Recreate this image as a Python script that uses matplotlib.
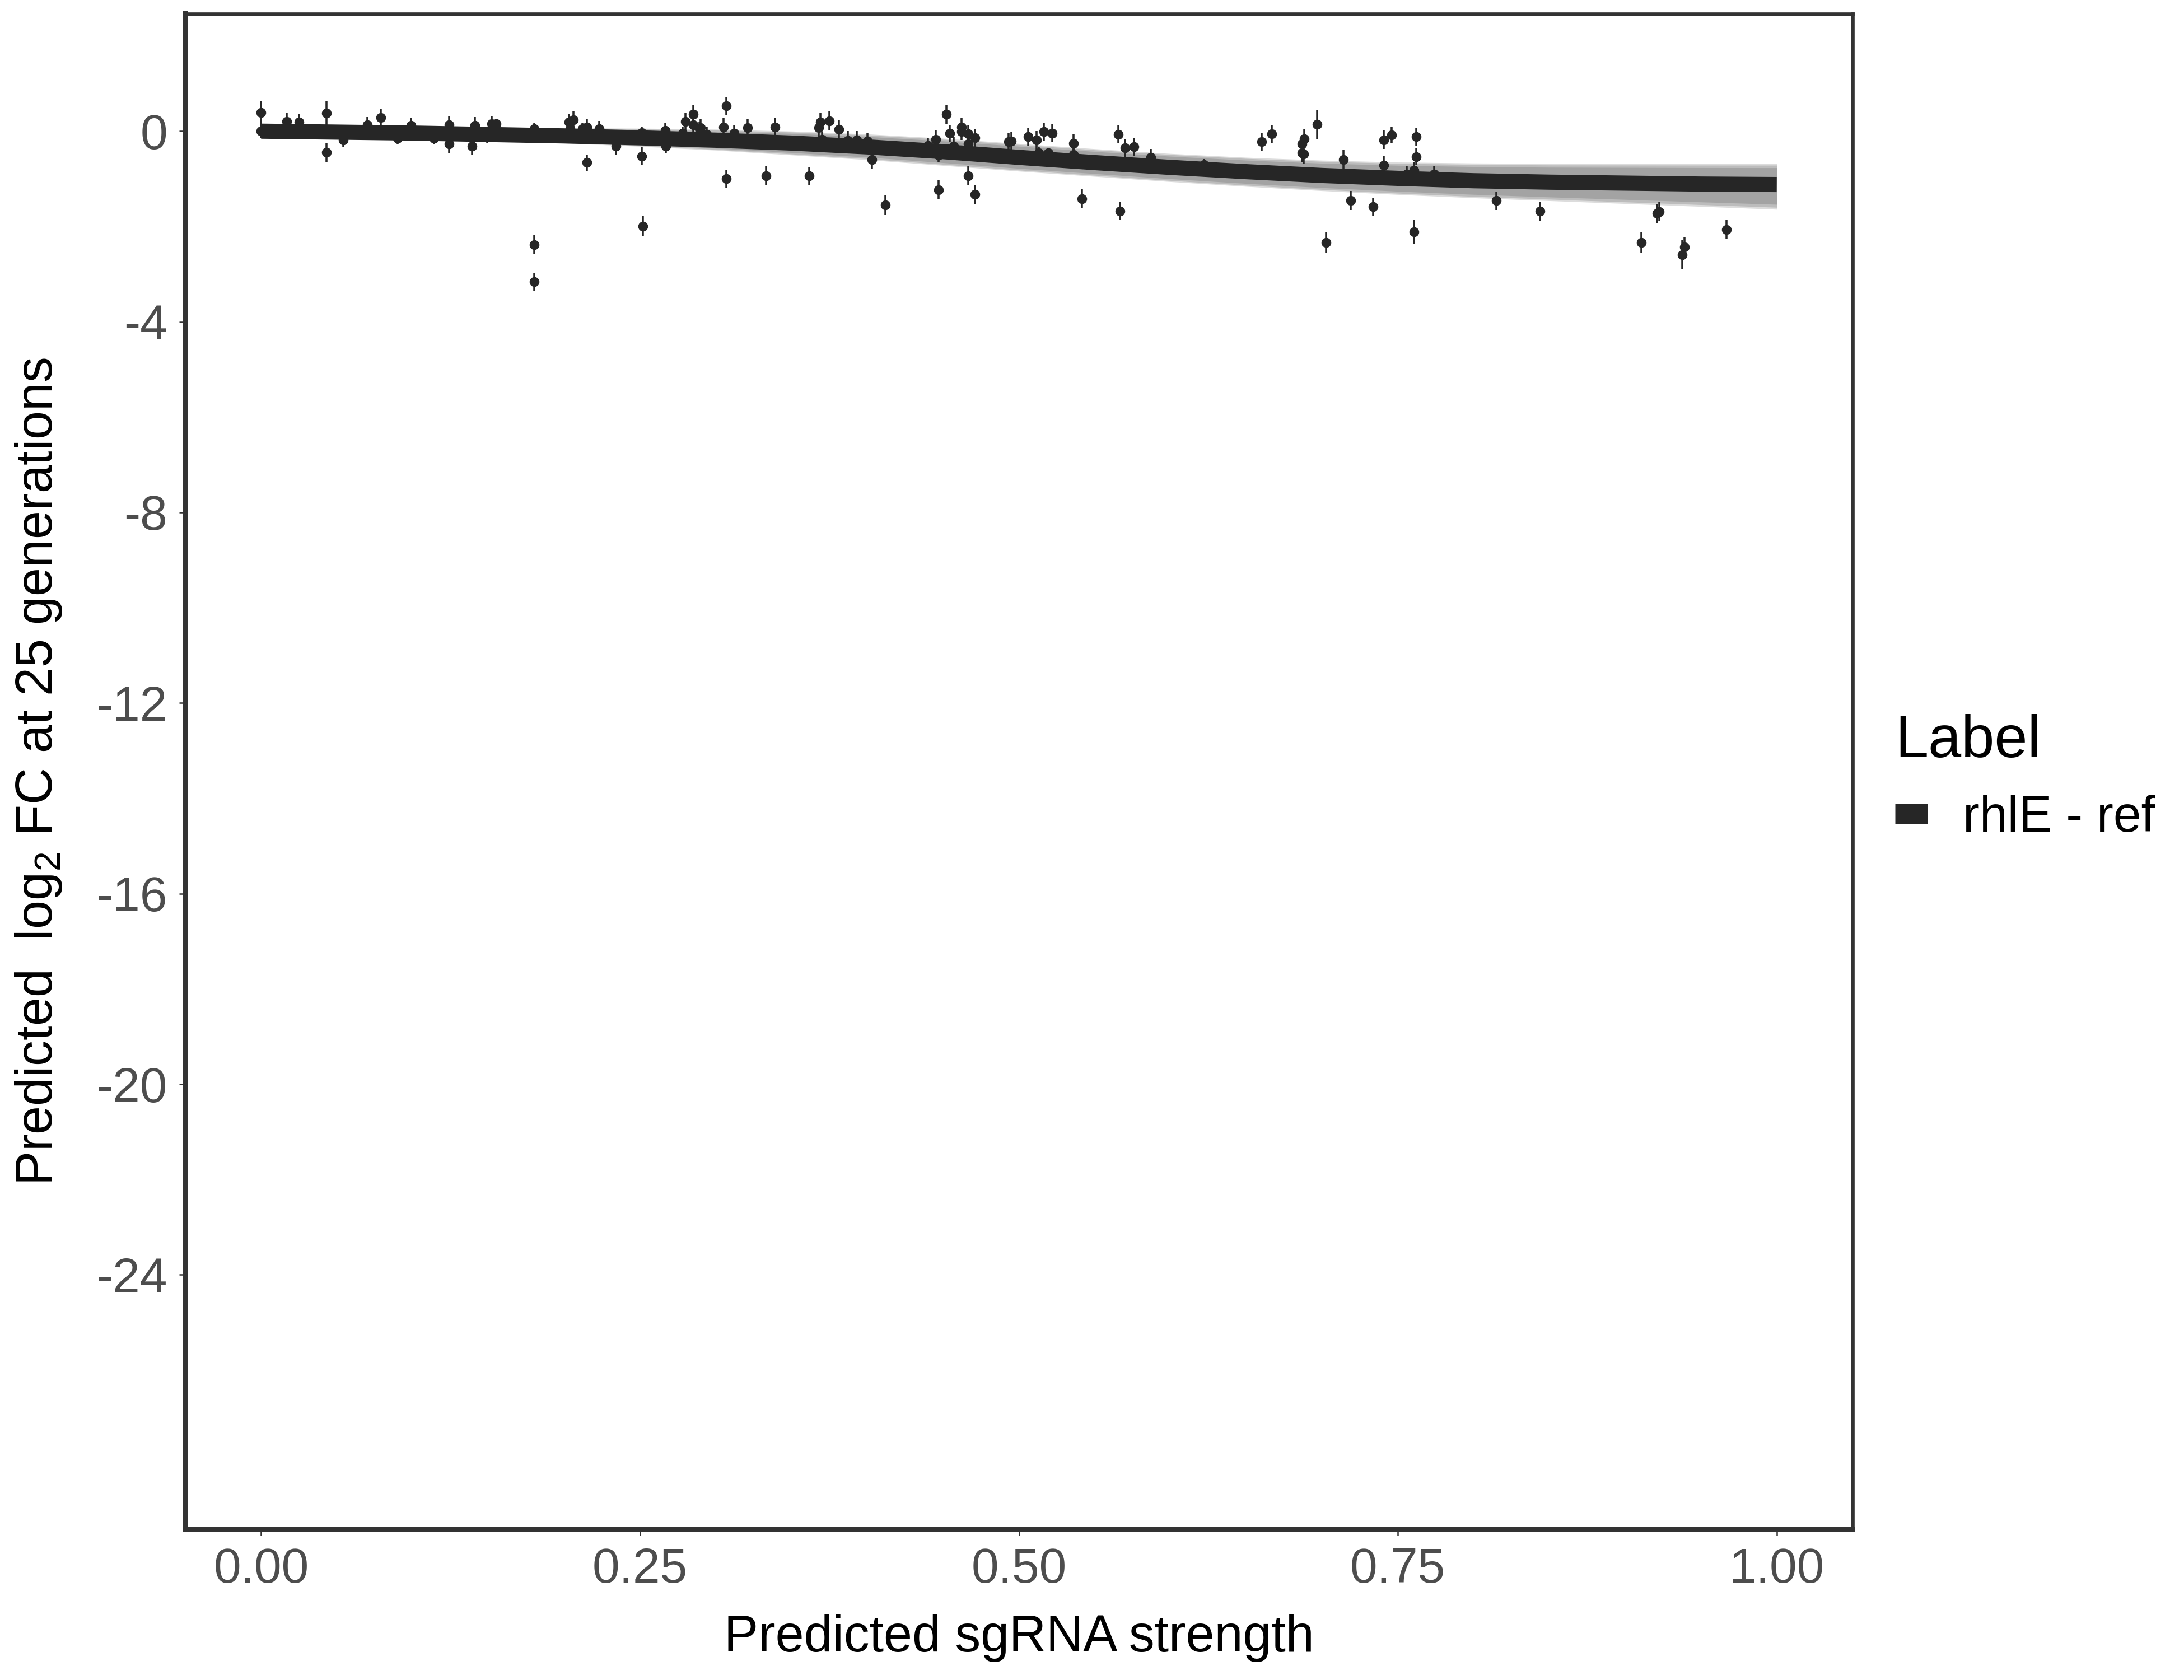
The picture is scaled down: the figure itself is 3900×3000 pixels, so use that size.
import matplotlib
matplotlib.use("Agg")
import matplotlib.pyplot as plt
from matplotlib.lines import Line2D
import numpy as np

plt.rcParams['font.family'] = ['Liberation Sans', 'DejaVu Sans']
plt.rcParams['axes.unicode_minus'] = False
plt.rcParams['mathtext.fontset'] = 'custom'
plt.rcParams['mathtext.rm'] = 'Liberation Sans'

# ---- data: guide-level points (x = predicted sgRNA strength, y = log2 FC, err = half error bar)
x_pts = [0.000, 0.000, 0.017, 0.025, 0.043, 0.043, 0.054, 0.060, 0.070, 0.079,
         0.090, 0.099, 0.114, 0.124, 0.124, 0.139, 0.141, 0.149, 0.152, 0.155,
         0.180, 0.180, 0.180, 0.203, 0.206, 0.204, 0.212, 0.215, 0.215, 0.223,
         0.234, 0.251, 0.251, 0.252, 0.2665, 0.267, 0.278, 0.280, 0.285, 0.285,
         0.289, 0.290, 0.294, 0.305, 0.307, 0.307, 0.312, 0.321, 0.333, 0.339,
         0.3615, 0.368, 0.369, 0.370, 0.375, 0.381, 0.387, 0.393, 0.400, 0.403,
         0.412, 0.440, 0.445, 0.447, 0.447, 0.452, 0.4545, 0.457, 0.462, 0.462,
         0.4665, 0.4665, 0.4665, 0.471, 0.471, 0.493, 0.495, 0.506, 0.5115, 0.513,
         0.5166, 0.522, 0.5195, 0.536, 0.536, 0.5416, 0.5656, 0.5667, 0.570, 0.576,
         0.587, 0.622, 0.660, 0.667, 0.6867, 0.6884, 0.6867, 0.688, 0.6967, 0.7027,
         0.714, 0.719, 0.7337, 0.7407, 0.7407, 0.746, 0.762, 0.762, 0.7605, 0.7605,
         0.756, 0.774, 0.815, 0.844, 0.9106, 0.921, 0.9227, 0.9375, 0.939, 0.9667]
y_pts = [0.39, 0.00, 0.20, 0.19, 0.38, -0.44, -0.19, -0.02, 0.13, 0.28,
         -0.15, 0.12, -0.15, 0.13, -0.27, -0.32, 0.12, -0.10, 0.16, 0.15,
         0.05, -2.38, -3.16, 0.19, 0.24, 0.05, 0.05, 0.09, -0.66, 0.05,
         -0.31, -0.53, -0.03, -1.99, 0.01, -0.31, -0.05, 0.20, 0.36, 0.13,
         0.05, 0.07, -0.07, 0.08, 0.53, -1.00, -0.05, 0.07, -0.94, 0.09,
         -0.94, 0.07, 0.19, -0.17, 0.22, 0.04, -0.20, -0.18, -0.21, -0.60,
         -1.55, -0.30, -0.17, -0.50, -1.23, 0.35, -0.05, -0.31, 0.09, -0.01,
         -0.06, -0.27, -0.94, -0.14, -1.33, -0.22, -0.21, -0.12, -0.19, -0.45,
         -0.01, -0.04, -0.45, -0.26, -0.49, -1.42, -0.07, -1.68, -0.35, -0.33,
         -0.55, -0.70, -0.22, -0.06, -0.27, -0.16, -0.46, -0.48, 0.14, -2.34,
         -0.60, -1.45, -1.58, -0.18, -0.71, -0.08, -0.12, -0.54, -0.82, -2.11,
         -0.90, -0.90, -1.46, -1.68, -2.34, -1.73, -1.69, -2.59, -2.43, -2.06]
err_pts = [0.23, 0.15, 0.18, 0.18, 0.26, 0.20, 0.15, 0.13, 0.17, 0.18,
           0.13, 0.17, 0.13, 0.18, 0.18, 0.18, 0.18, 0.15, 0.16, 0.10,
           0.12, 0.20, 0.19, 0.18, 0.18, 0.12, 0.13, 0.17, 0.17, 0.16,
           0.18, 0.19, 0.12, 0.21, 0.17, 0.15, 0.15, 0.18, 0.19, 0.17,
           0.15, 0.19, 0.15, 0.20, 0.19, 0.19, 0.18, 0.19, 0.20, 0.19,
           0.19, 0.19, 0.19, 0.16, 0.19, 0.19, 0.20, 0.18, 0.17, 0.20,
           0.21, 0.15, 0.20, 0.15, 0.20, 0.19, 0.18, 0.18, 0.19, 0.18,
           0.18, 0.18, 0.20, 0.19, 0.20, 0.18, 0.19, 0.19, 0.19, 0.12,
           0.19, 0.19, 0.10, 0.20, 0.15, 0.20, 0.19, 0.19, 0.19, 0.19,
           0.18, 0.12, 0.19, 0.18, 0.19, 0.20, 0.18, 0.20, 0.30, 0.21,
           0.20, 0.20, 0.19, 0.19, 0.18, 0.18, 0.19, 0.18, 0.18, 0.25,
           0.17, 0.16, 0.19, 0.20, 0.21, 0.20, 0.20, 0.30, 0.20, 0.21]

# ---- data: fitted curve and its credible band
x_fit = [0.00, 0.05, 0.10, 0.15, 0.20, 0.25, 0.30, 0.35, 0.40, 0.45, 0.50,
         0.55, 0.60, 0.65, 0.70, 0.75, 0.80, 0.85, 0.90, 0.95, 1.00]
y_fit = [0.00, -0.02, -0.04, -0.07, -0.10, -0.14, -0.19, -0.25, -0.33, -0.43, -0.55,
         -0.66, -0.76, -0.85, -0.93, -0.99, -1.04, -1.07, -1.09, -1.11, -1.12]
band_hi = [0.05, 0.06, 0.07, 0.07, 0.07, 0.06, 0.04, 0.00, -0.06, -0.15, -0.26,
           -0.37, -0.47, -0.55, -0.61, -0.65, -0.67, -0.68, -0.68, -0.68, -0.68]
band_lo = [-0.05, -0.09, -0.14, -0.19, -0.25, -0.32, -0.40, -0.50, -0.60, -0.72, -0.84,
           -0.95, -1.06, -1.16, -1.25, -1.33, -1.40, -1.46, -1.52, -1.58, -1.64]

x_ticks = [0.00, 0.25, 0.50, 0.75, 1.00]
x_ticklabels = ['0.00', '0.25', '0.50', '0.75', '1.00']
y_ticks = [0, -4, -8, -12, -16, -20, -24]
y_ticklabels = ['0', '-4', '-8', '-12', '-16', '-20', '-24']
series_label = 'rhlE - ref'

DARK = '#262626'

fig = plt.figure(figsize=(13, 10), dpi=300)
ax = fig.add_axes([0.0849, 0.0897, 0.7633, 0.902])

xf = np.array(x_fit); yf = np.array(y_fit)
hi = np.array(band_hi); lo = np.array(band_lo)
for frac, a in [(1.0, 0.3), (0.92, 0.4), (0.8, 0.5)]:
    ax.fill_between(xf, yf + frac * (hi - yf), yf + frac * (lo - yf),
                    color='#8c8c8c', alpha=a, lw=0, zorder=1)

ax.errorbar(x_pts, y_pts, yerr=err_pts, fmt='o', color=DARK, ecolor=DARK,
            elinewidth=0.85, markersize=3.2, capsize=0, zorder=3)

ax.plot(x_fit, y_fit, color=DARK, lw=6.5, solid_capstyle='butt', zorder=4)

ax.set_xlim(-0.05, 1.05)
ax.set_ylim(-29.34, 2.46)
ax.set_xticks(x_ticks)
ax.set_xticklabels(x_ticklabels)
ax.set_yticks(y_ticks)
ax.set_yticklabels(y_ticklabels)
ax.tick_params(axis='both', colors='#333333', labelcolor='#4d4d4d', labelsize=21,
               length=2.75, width=0.6, pad=5)
for side, sp in ax.spines.items():
    sp.set_color('#333333')
    sp.set_linewidth(2.4 if side in ('left', 'bottom') else 1.6)

ax.set_xlabel('Predicted sgRNA strength', fontsize=22, color='black', labelpad=9)
ax.set_ylabel('Predicted  log$_{\\mathregular{2}}$ FC at 25 generations', fontsize=22,
              color='black', labelpad=14)

handle = Line2D([], [], color=DARK, lw=8.5, solid_capstyle='butt')
fig.legend(handles=[handle], labels=[series_label], title='Label',
           loc='upper left', bbox_to_anchor=(0.8585, 0.587), frameon=False,
           fontsize=21.5, title_fontsize=25.5, handlelength=0.65,
           handletextpad=0.7, alignment='left', borderaxespad=0)

fig.savefig('out.png', dpi=300, facecolor='white')
